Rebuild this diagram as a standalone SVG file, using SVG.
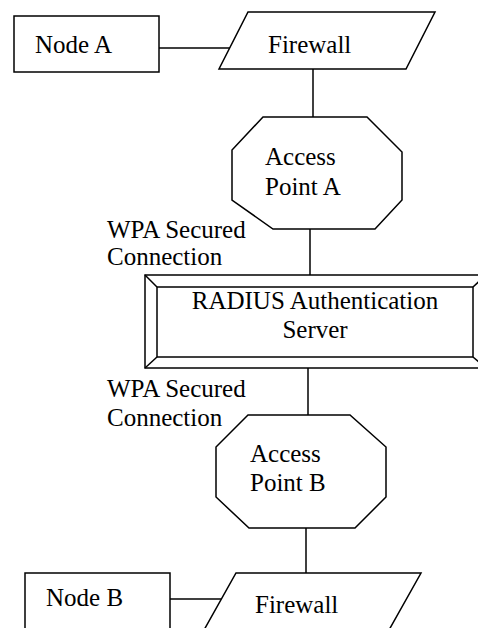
<svg xmlns="http://www.w3.org/2000/svg" width="478" height="628" viewBox="0 0 478 628">
<style>
.s{fill:#fff;stroke:#000;stroke-width:1.5;stroke-linejoin:miter}
.l{fill:none;stroke:#000;stroke-width:1.5}
.t{font-family:"Liberation Serif","Times New Roman",serif;font-size:25px;fill:#000}
.m{text-anchor:middle}
</style>
<rect width="478" height="628" fill="#fff"/>
<g id="connectors">
<line class="l" x1="159" y1="48" x2="231" y2="48"/>
<line class="l" x1="313" y1="69" x2="313" y2="117"/>
<line class="l" x1="310" y1="229" x2="310" y2="275"/>
<line class="l" x1="308" y1="368" x2="308" y2="415"/>
<line class="l" x1="306" y1="528" x2="306" y2="573"/>
<line class="l" x1="170" y1="599" x2="221" y2="599"/>
</g>
<g id="label-wpa-1">
<text class="t" x="107" y="238">WPA Secured</text>
<text class="t" x="107" y="265">Connection</text>
</g>
<g id="label-wpa-2">
<text class="t" x="107" y="397">WPA Secured</text>
<text class="t" x="107" y="426">Connection</text>
</g>
<g id="node-a">
<rect class="s" x="14" y="16" width="145" height="56"/>
<text class="t" x="35" y="53">Node A</text>
</g>
<g id="firewall-a">
<polygon class="s" points="248,12 435,12 406,69 219,69"/>
<text class="t" x="268" y="53">Firewall</text>
</g>
<g id="access-point-a">
<polygon class="s" points="263,117 367,117 402,152 402,200 375,229 273,229 232,200 232,150"/>
<text class="t" x="265" y="165">Access</text>
<text class="t" x="265" y="195">Point A</text>
</g>
<g id="radius-server">
<rect class="s" x="145" y="275" width="341" height="93"/>
<rect class="s" x="157" y="287" width="316" height="70"/>
<line class="l" x1="145" y1="275" x2="157" y2="287"/>
<line class="l" x1="486" y1="275" x2="473" y2="287"/>
<line class="l" x1="145" y1="368" x2="157" y2="357"/>
<line class="l" x1="486" y1="368" x2="473" y2="357"/>
<text class="t m" x="315" y="309">RADIUS Authentication</text>
<text class="t m" x="315" y="338">Server</text>
</g>
<g id="access-point-b">
<polygon class="s" points="248,415 350,415 386,447 386,497 355,528 249,528 216,497 216,447"/>
<text class="t" x="250" y="462">Access</text>
<text class="t" x="250" y="491">Point B</text>
</g>
<g id="node-b">
<rect class="s" x="25" y="573" width="145" height="60"/>
<text class="t" x="46" y="606">Node B</text>
</g>
<g id="firewall-b">
<polygon class="s" points="236,573 421,573 389,630 204,630"/>
<text class="t" x="255" y="613">Firewall</text>
</g>
</svg>
